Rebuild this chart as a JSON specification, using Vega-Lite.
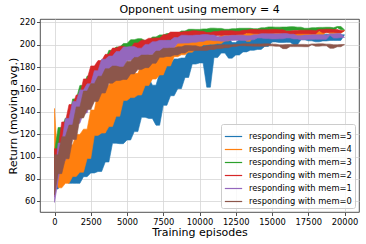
{
"$schema": "https://vega.github.io/schema/vega-lite/v6.json",
"width": 319, "height": 193,
"autosize": {"type": "none"},
"padding": {"left": 40, "top": 19, "right": 7, "bottom": 32},
"background": "white",
"title": {"text": "Opponent using memory = 4", "fontSize": 11, "fontWeight": "normal", "font": "DejaVu Sans", "color": "black", "offset": 2},
"data": {"values": [
{"e":0,"m":5,"r":98},{"e":250,"m":5,"r":71},{"e":500,"m":5,"r":102},{"e":750,"m":5,"r":78},{"e":1000,"m":5,"r":101},{"e":1250,"m":5,"r":76},{"e":1500,"m":5,"r":97},{"e":1750,"m":5,"r":76},{"e":2000,"m":5,"r":106},{"e":2250,"m":5,"r":82},{"e":2500,"m":5,"r":113.5},{"e":2750,"m":5,"r":85.3},{"e":3000,"m":5,"r":119.4},{"e":3250,"m":5,"r":86.6},{"e":3500,"m":5,"r":121},{"e":3750,"m":5,"r":95.1},{"e":4000,"m":5,"r":134.5},{"e":4250,"m":5,"r":111.9},{"e":4500,"m":5,"r":148.5},{"e":4750,"m":5,"r":111.5},{"e":5000,"m":5,"r":152.3},{"e":5250,"m":5,"r":114.8},{"e":5500,"m":5,"r":159.8},{"e":5750,"m":5,"r":122.3},{"e":6000,"m":5,"r":170},{"e":6250,"m":5,"r":135.1},{"e":6500,"m":5,"r":170.7},{"e":6750,"m":5,"r":134.1},{"e":7000,"m":5,"r":163.8},{"e":7250,"m":5,"r":128},{"e":7500,"m":5,"r":175},{"e":7750,"m":5,"r":145.8},{"e":8000,"m":5,"r":183.2},{"e":8250,"m":5,"r":154.4},{"e":8500,"m":5,"r":187.3},{"e":8750,"m":5,"r":160.7},{"e":9000,"m":5,"r":188.1},{"e":9250,"m":5,"r":170.7},{"e":9500,"m":5,"r":195.9},{"e":9750,"m":5,"r":182.7},{"e":10000,"m":5,"r":203},{"e":10250,"m":5,"r":183.7},{"e":10500,"m":5,"r":203.2},{"e":10750,"m":5,"r":162},{"e":11000,"m":5,"r":204.9},{"e":11250,"m":5,"r":188.5},{"e":11500,"m":5,"r":207},{"e":11750,"m":5,"r":192.5},{"e":12000,"m":5,"r":205.9},{"e":12250,"m":5,"r":188},{"e":12500,"m":5,"r":201.9},{"e":12750,"m":5,"r":190.8},{"e":13000,"m":5,"r":204.8},{"e":13250,"m":5,"r":193.6},{"e":13500,"m":5,"r":206.3},{"e":13750,"m":5,"r":195},{"e":14000,"m":5,"r":207},{"e":14250,"m":5,"r":195.8},{"e":14500,"m":5,"r":206},{"e":14750,"m":5,"r":198.5},{"e":15000,"m":5,"r":208.2},{"e":15250,"m":5,"r":202.5},{"e":15500,"m":5,"r":210.2},{"e":15750,"m":5,"r":202},{"e":16000,"m":5,"r":209.9},{"e":16250,"m":5,"r":202.1},{"e":16500,"m":5,"r":210.1},{"e":16750,"m":5,"r":200},{"e":17000,"m":5,"r":210.8},{"e":17250,"m":5,"r":204.4},{"e":17500,"m":5,"r":210.1},{"e":17750,"m":5,"r":203.5},{"e":18000,"m":5,"r":208},{"e":18250,"m":5,"r":202.6},{"e":18500,"m":5,"r":209},{"e":18750,"m":5,"r":203.4},{"e":19000,"m":5,"r":209.4},{"e":19250,"m":5,"r":203.8},{"e":19500,"m":5,"r":209.5},{"e":19750,"m":5,"r":203.8},{"e":20000,"m":5,"r":208.9},
{"e":0,"m":4,"r":143},{"e":250,"m":4,"r":89.5},{"e":500,"m":4,"r":72},{"e":750,"m":4,"r":100},{"e":1000,"m":4,"r":76},{"e":1250,"m":4,"r":110.6},{"e":1500,"m":4,"r":82.2},{"e":1750,"m":4,"r":119.8},{"e":2000,"m":4,"r":86},{"e":2250,"m":4,"r":124.5},{"e":2500,"m":4,"r":98.2},{"e":2750,"m":4,"r":141.6},{"e":3000,"m":4,"r":118.9},{"e":3250,"m":4,"r":158.5},{"e":3500,"m":4,"r":121},{"e":3750,"m":4,"r":163.8},{"e":4000,"m":4,"r":126.8},{"e":4250,"m":4,"r":170.4},{"e":4500,"m":4,"r":136},{"e":4750,"m":4,"r":178.5},{"e":5000,"m":4,"r":150.2},{"e":5250,"m":4,"r":178.9},{"e":5500,"m":4,"r":152.7},{"e":5750,"m":4,"r":174.4},{"e":6000,"m":4,"r":155},{"e":6250,"m":4,"r":182.5},{"e":6500,"m":4,"r":163.5},{"e":6750,"m":4,"r":187.4},{"e":7000,"m":4,"r":169.3},{"e":7250,"m":4,"r":190.5},{"e":7500,"m":4,"r":173},{"e":7750,"m":4,"r":191.4},{"e":8000,"m":4,"r":181},{"e":8250,"m":4,"r":197.2},{"e":8500,"m":4,"r":189.3},{"e":8750,"m":4,"r":202},{"e":9000,"m":4,"r":191},{"e":9250,"m":4,"r":203},{"e":9500,"m":4,"r":193.3},{"e":9750,"m":4,"r":204.6},{"e":10000,"m":4,"r":196.4},{"e":10250,"m":4,"r":206.8},{"e":10500,"m":4,"r":199.8},{"e":10750,"m":4,"r":207.2},{"e":11000,"m":4,"r":200.5},{"e":11250,"m":4,"r":206.2},{"e":11500,"m":4,"r":201},{"e":11750,"m":4,"r":208.4},{"e":12000,"m":4,"r":203.4},{"e":12250,"m":4,"r":209.8},{"e":12500,"m":4,"r":204.9},{"e":12750,"m":4,"r":210.5},{"e":13000,"m":4,"r":206},{"e":13250,"m":4,"r":210.3},{"e":13500,"m":4,"r":203},{"e":13750,"m":4,"r":211.3},{"e":14000,"m":4,"r":208.7},{"e":14250,"m":4,"r":212.3},{"e":14500,"m":4,"r":208.4},{"e":14750,"m":4,"r":212.2},{"e":15000,"m":4,"r":208.5},{"e":15250,"m":4,"r":212.3},{"e":15500,"m":4,"r":208.6},{"e":15750,"m":4,"r":212.6},{"e":16000,"m":4,"r":209.2},{"e":16250,"m":4,"r":212.2},{"e":16500,"m":4,"r":208.7},{"e":16750,"m":4,"r":211.1},{"e":17000,"m":4,"r":208.1},{"e":17250,"m":4,"r":211.6},{"e":17500,"m":4,"r":208.5},{"e":17750,"m":4,"r":211.9},{"e":18000,"m":4,"r":208.7},{"e":18250,"m":4,"r":211.9},{"e":18500,"m":4,"r":208.6},{"e":18750,"m":4,"r":211.6},{"e":19000,"m":4,"r":212.6},{"e":19250,"m":4,"r":209.7},{"e":19500,"m":4,"r":212.9},{"e":19750,"m":4,"r":210.2},{"e":20000,"m":4,"r":212.6},
{"e":0,"m":3,"r":104},{"e":250,"m":3,"r":89},{"e":500,"m":3,"r":126},{"e":750,"m":3,"r":106.2},{"e":1000,"m":3,"r":134.4},{"e":1250,"m":3,"r":118.5},{"e":1500,"m":3,"r":151.5},{"e":1750,"m":3,"r":133.7},{"e":2000,"m":3,"r":163.6},{"e":2250,"m":3,"r":144.6},{"e":2500,"m":3,"r":172},{"e":2750,"m":3,"r":153},{"e":3000,"m":3,"r":176.2},{"e":3250,"m":3,"r":164.5},{"e":3500,"m":3,"r":186.4},{"e":3750,"m":3,"r":177.6},{"e":4000,"m":3,"r":195},{"e":4250,"m":3,"r":181.3},{"e":4500,"m":3,"r":198},{"e":4750,"m":3,"r":185.3},{"e":5000,"m":3,"r":201.1},{"e":5250,"m":3,"r":189.3},{"e":5500,"m":3,"r":204.5},{"e":5750,"m":3,"r":194.2},{"e":6000,"m":3,"r":205.4},{"e":6250,"m":3,"r":195},{"e":6500,"m":3,"r":203.6},{"e":6750,"m":3,"r":196.3},{"e":7000,"m":3,"r":207},{"e":7250,"m":3,"r":199.6},{"e":7500,"m":3,"r":208.8},{"e":7750,"m":3,"r":201.6},{"e":8000,"m":3,"r":210},{"e":8250,"m":3,"r":202.9},{"e":8500,"m":3,"r":210.1},{"e":8750,"m":3,"r":205.5},{"e":9000,"m":3,"r":212.3},{"e":9250,"m":3,"r":208.8},{"e":9500,"m":3,"r":213.8},{"e":9750,"m":3,"r":209},{"e":10000,"m":3,"r":213.7},{"e":10250,"m":3,"r":209.5},{"e":10500,"m":3,"r":214.1},{"e":10750,"m":3,"r":210.1},{"e":11000,"m":3,"r":214.8},{"e":11250,"m":3,"r":211.2},{"e":11500,"m":3,"r":214.6},{"e":11750,"m":3,"r":211},{"e":12000,"m":3,"r":213.8},{"e":12250,"m":3,"r":210.6},{"e":12500,"m":3,"r":214.3},{"e":12750,"m":3,"r":210.9},{"e":13000,"m":3,"r":214.7},{"e":13250,"m":3,"r":211.1},{"e":13500,"m":3,"r":214.7},{"e":13750,"m":3,"r":210.9},{"e":14000,"m":3,"r":214.3},{"e":14250,"m":3,"r":211.5},{"e":14500,"m":3,"r":215.1},{"e":14750,"m":3,"r":212.8},{"e":15000,"m":3,"r":215.9},{"e":15250,"m":3,"r":212.5},{"e":15500,"m":3,"r":215.7},{"e":15750,"m":3,"r":212.3},{"e":16000,"m":3,"r":215.8},{"e":16250,"m":3,"r":212.5},{"e":16500,"m":3,"r":216.1},{"e":16750,"m":3,"r":213},{"e":17000,"m":3,"r":215.7},{"e":17250,"m":3,"r":212.5},{"e":17500,"m":3,"r":214.7},{"e":17750,"m":3,"r":211.9},{"e":18000,"m":3,"r":215.2},{"e":18250,"m":3,"r":212.3},{"e":18500,"m":3,"r":215.5},{"e":18750,"m":3,"r":212.4},{"e":19000,"m":3,"r":215.6},{"e":19250,"m":3,"r":212.3},{"e":19500,"m":3,"r":215.2},{"e":19750,"m":3,"r":216.3},{"e":20000,"m":3,"r":213.3},
{"e":0,"m":2,"r":64},{"e":250,"m":2,"r":107},{"e":500,"m":2,"r":92},{"e":750,"m":2,"r":130.9},{"e":1000,"m":2,"r":112.8},{"e":1250,"m":2,"r":146.5},{"e":1500,"m":2,"r":126},{"e":1750,"m":2,"r":155.1},{"e":2000,"m":2,"r":141.2},{"e":2250,"m":2,"r":169.4},{"e":2500,"m":2,"r":158.5},{"e":2750,"m":2,"r":181},{"e":3000,"m":2,"r":164.5},{"e":3250,"m":2,"r":185.8},{"e":3500,"m":2,"r":170.8},{"e":3750,"m":2,"r":191.4},{"e":4000,"m":2,"r":177.4},{"e":4250,"m":2,"r":197},{"e":4500,"m":2,"r":185},{"e":4750,"m":2,"r":198.6},{"e":5000,"m":2,"r":186.7},{"e":5250,"m":2,"r":197.1},{"e":5500,"m":2,"r":187.5},{"e":5750,"m":2,"r":201.6},{"e":6000,"m":2,"r":192.7},{"e":6250,"m":2,"r":204.1},{"e":6500,"m":2,"r":195.2},{"e":6750,"m":2,"r":205.8},{"e":7000,"m":2,"r":197},{"e":7250,"m":2,"r":206.1},{"e":7500,"m":2,"r":200.1},{"e":7750,"m":2,"r":209},{"e":8000,"m":2,"r":204.5},{"e":8250,"m":2,"r":211.3},{"e":8500,"m":2,"r":204.8},{"e":8750,"m":2,"r":211.3},{"e":9000,"m":2,"r":205.6},{"e":9250,"m":2,"r":211.8},{"e":9500,"m":2,"r":206.7},{"e":9750,"m":2,"r":212.4},{"e":10000,"m":2,"r":208.3},{"e":10250,"m":2,"r":212},{"e":10500,"m":2,"r":207.9},{"e":10750,"m":2,"r":210.9},{"e":11000,"m":2,"r":207.5},{"e":11250,"m":2,"r":211.8},{"e":11500,"m":2,"r":208.3},{"e":11750,"m":2,"r":212.4},{"e":12000,"m":2,"r":208.8},{"e":12250,"m":2,"r":212.5},{"e":12500,"m":2,"r":208.6},{"e":12750,"m":2,"r":212.1},{"e":13000,"m":2,"r":209.2},{"e":13250,"m":2,"r":212.9},{"e":13500,"m":2,"r":210.5},{"e":13750,"m":2,"r":213.6},{"e":14000,"m":2,"r":210.1},{"e":14250,"m":2,"r":213.4},{"e":14500,"m":2,"r":209.9},{"e":14750,"m":2,"r":213.4},{"e":15000,"m":2,"r":210},{"e":15250,"m":2,"r":213.7},{"e":15500,"m":2,"r":210.5},{"e":15750,"m":2,"r":213.3},{"e":16000,"m":2,"r":209.9},{"e":16250,"m":2,"r":212.2},{"e":16500,"m":2,"r":209.3},{"e":16750,"m":2,"r":212.7},{"e":17000,"m":2,"r":209.7},{"e":17250,"m":2,"r":213},{"e":17500,"m":2,"r":209.8},{"e":17750,"m":2,"r":213},{"e":18000,"m":2,"r":209.6},{"e":18250,"m":2,"r":212.6},{"e":18500,"m":2,"r":213.7},{"e":18750,"m":2,"r":210.6},{"e":19000,"m":2,"r":213.9},{"e":19250,"m":2,"r":211.1},{"e":19500,"m":2,"r":213.6},{"e":19750,"m":2,"r":210.6},{"e":20000,"m":2,"r":212.6},
{"e":0,"m":1,"r":59},{"e":250,"m":1,"r":78.3},{"e":500,"m":1,"r":112},{"e":750,"m":1,"r":96.5},{"e":1000,"m":1,"r":134},{"e":1250,"m":1,"r":116.3},{"e":1500,"m":1,"r":149.2},{"e":1750,"m":1,"r":129.7},{"e":2000,"m":1,"r":159.6},{"e":2250,"m":1,"r":139},{"e":2500,"m":1,"r":165},{"e":2750,"m":1,"r":151.4},{"e":3000,"m":1,"r":176.8},{"e":3250,"m":1,"r":166.5},{"e":3500,"m":1,"r":187},{"e":3750,"m":1,"r":170.3},{"e":4000,"m":1,"r":189.8},{"e":4250,"m":1,"r":174.6},{"e":4500,"m":1,"r":193.9},{"e":4750,"m":1,"r":179.7},{"e":5000,"m":1,"r":198},{"e":5250,"m":1,"r":185.8},{"e":5500,"m":1,"r":198.5},{"e":5750,"m":1,"r":187},{"e":6000,"m":1,"r":196.9},{"e":6250,"m":1,"r":187.8},{"e":6500,"m":1,"r":200.3},{"e":6750,"m":1,"r":191},{"e":7000,"m":1,"r":202.7},{"e":7250,"m":1,"r":193.2},{"e":7500,"m":1,"r":203.9},{"e":7750,"m":1,"r":194.5},{"e":8000,"m":1,"r":203.9},{"e":8250,"m":1,"r":197.4},{"e":8500,"m":1,"r":206.4},{"e":8750,"m":1,"r":201.4},{"e":9000,"m":1,"r":208.5},{"e":9250,"m":1,"r":201.5},{"e":9500,"m":1,"r":208.3},{"e":9750,"m":1,"r":202.1},{"e":10000,"m":1,"r":208.6},{"e":10250,"m":1,"r":202.9},{"e":10500,"m":1,"r":209.1},{"e":10750,"m":1,"r":204.1},{"e":11000,"m":1,"r":208.6},{"e":11250,"m":1,"r":203.6},{"e":11500,"m":1,"r":207.1},{"e":11750,"m":1,"r":203.2},{"e":12000,"m":1,"r":208},{"e":12250,"m":1,"r":203.8},{"e":12500,"m":1,"r":208.4},{"e":12750,"m":1,"r":203.9},{"e":13000,"m":1,"r":208.5},{"e":13250,"m":1,"r":203.7},{"e":13500,"m":1,"r":208},{"e":13750,"m":1,"r":204.4},{"e":14000,"m":1,"r":208.9},{"e":14250,"m":1,"r":206},{"e":14500,"m":1,"r":209.9},{"e":14750,"m":1,"r":205.5},{"e":15000,"m":1,"r":209.7},{"e":15250,"m":1,"r":205.2},{"e":15500,"m":1,"r":209.7},{"e":15750,"m":1,"r":205.3},{"e":16000,"m":1,"r":210},{"e":16250,"m":1,"r":206},{"e":16500,"m":1,"r":209.4},{"e":16750,"m":1,"r":205.2},{"e":17000,"m":1,"r":208},{"e":17250,"m":1,"r":204.5},{"e":17500,"m":1,"r":208.6},{"e":17750,"m":1,"r":204.8},{"e":18000,"m":1,"r":208.9},{"e":18250,"m":1,"r":204.9},{"e":18500,"m":1,"r":208.9},{"e":18750,"m":1,"r":204.8},{"e":19000,"m":1,"r":208.4},{"e":19250,"m":1,"r":209.7},{"e":19500,"m":1,"r":205.9},{"e":19750,"m":1,"r":210},{"e":20000,"m":1,"r":206.5},
{"e":0,"m":0,"r":65.8},{"e":250,"m":0,"r":101.5},{"e":500,"m":0,"r":84.7},{"e":750,"m":0,"r":117.7},{"e":1000,"m":0,"r":98},{"e":1250,"m":0,"r":128.1},{"e":1500,"m":0,"r":115.2},{"e":1750,"m":0,"r":144.4},{"e":2000,"m":0,"r":134.5},{"e":2250,"m":0,"r":158.5},{"e":2500,"m":0,"r":142},{"e":2750,"m":0,"r":165.2},{"e":3000,"m":0,"r":149.2},{"e":3250,"m":0,"r":171.8},{"e":3500,"m":0,"r":156.8},{"e":3750,"m":0,"r":178.5},{"e":4000,"m":0,"r":165.6},{"e":4250,"m":0,"r":180.9},{"e":4500,"m":0,"r":168},{"e":4750,"m":0,"r":180},{"e":5000,"m":0,"r":169},{"e":5250,"m":0,"r":185.3},{"e":5500,"m":0,"r":173.9},{"e":5750,"m":0,"r":188.6},{"e":6000,"m":0,"r":177.8},{"e":6250,"m":0,"r":190.7},{"e":6500,"m":0,"r":179.5},{"e":6750,"m":0,"r":190.9},{"e":7000,"m":0,"r":183.4},{"e":7250,"m":0,"r":194.3},{"e":7500,"m":0,"r":188.7},{"e":7750,"m":0,"r":196.8},{"e":8000,"m":0,"r":189.5},{"e":8250,"m":0,"r":197.1},{"e":8500,"m":0,"r":190.8},{"e":8750,"m":0,"r":198.1},{"e":9000,"m":0,"r":192.6},{"e":9250,"m":0,"r":199.3},{"e":9500,"m":0,"r":194.6},{"e":9750,"m":0,"r":199.1},{"e":10000,"m":0,"r":194.9},{"e":10250,"m":0,"r":198.1},{"e":10500,"m":0,"r":194.8},{"e":10750,"m":0,"r":199.1},{"e":11000,"m":0,"r":195.8},{"e":11250,"m":0,"r":199.6},{"e":11500,"m":0,"r":196.6},{"e":11750,"m":0,"r":199.9},{"e":12000,"m":0,"r":197.3},{"e":12250,"m":0,"r":199.9},{"e":12500,"m":0,"r":198.5},{"e":12750,"m":0,"r":200.4},{"e":13000,"m":0,"r":199.1},{"e":13250,"m":0,"r":200.8},{"e":13500,"m":0,"r":198.9},{"e":13750,"m":0,"r":200.7},{"e":14000,"m":0,"r":198.7},{"e":14250,"m":0,"r":200.7},{"e":14500,"m":0,"r":198.7},{"e":14750,"m":0,"r":200.8},{"e":15000,"m":0,"r":199},{"e":15250,"m":0,"r":200.5},{"e":15500,"m":0,"r":198.6},{"e":15750,"m":0,"r":199.9},{"e":16000,"m":0,"r":196.5},{"e":16250,"m":0,"r":200.2},{"e":16500,"m":0,"r":198.3},{"e":16750,"m":0,"r":200.3},{"e":17000,"m":0,"r":198.3},{"e":17250,"m":0,"r":200.3},{"e":17500,"m":0,"r":198.2},{"e":17750,"m":0,"r":200},{"e":18000,"m":0,"r":200.7},{"e":18250,"m":0,"r":198.7},{"e":18500,"m":0,"r":200.8},{"e":18750,"m":0,"r":199},{"e":19000,"m":0,"r":200.5},{"e":19250,"m":0,"r":196.8},{"e":19500,"m":0,"r":199.9},{"e":19750,"m":0,"r":198.2},{"e":20000,"m":0,"r":200.2}
]},
"transform": [{"window": [{"op": "min", "field": "r", "as": "lo"}, {"op": "max", "field": "r", "as": "hi"}], "frame": [0, 1], "groupby": ["m"], "sort": [{"field": "e"}]}],
"mark": {"type": "area", "opacity": 1, "strokeWidth": 0.6},
"encoding": {
"x": {"field": "e", "type": "quantitative", "scale": {"domain": [-1000, 21000], "nice": false, "zero": false}, "axis": {"values": [0,2500,5000,7500,10000,12500,15000,17500,20000], "format": "d", "title": "Training episodes", "labelPadding": 2, "titlePadding": 1, "labelFlush": false}},
"y": {"field": "hi", "type": "quantitative", "stack": null, "scale": {"domain": [50.4, 223], "nice": false, "zero": false}, "axis": {"values": [60,80,100,120,140,160,180,200,220], "format": "d", "title": "Return (moving avg.)", "labelPadding": 1.5, "titlePadding": 1}},
"y2": {"field": "lo"},
"color": {"field": "m", "type": "nominal", "sort": [5,4,3,2,1,0], "scale": {"domain": [5,4,3,2,1,0], "range": ["#1f77b4","#ff7f0e","#2ca02c","#d62728","#9467bd","#8c564b"]}, "legend": {"title": null, "labelExpr": "'responding with mem=' + datum.label", "orient": "bottom-right", "offset": 4}},
"stroke": {"field": "m", "type": "nominal", "sort": [5,4,3,2,1,0], "scale": {"domain": [5,4,3,2,1,0], "range": ["#1f77b4","#ff7f0e","#2ca02c","#d62728","#9467bd","#8c564b"]}, "legend": {"title": null, "labelExpr": "'responding with mem=' + datum.label", "orient": "bottom-right", "offset": 4}}
},
"config": {
"font": "DejaVu Sans",
"view": {"stroke": "#262626", "strokeWidth": 0.8},
"axis": {"domain": false, "grid": true, "gridColor": "#d6d6d6", "gridWidth": 0.8, "tickColor": "#262626", "tickSize": 3.5, "tickWidth": 0.8, "labelFontSize": 8.3, "labelColor": "black", "labelFont": "DejaVu Sans", "titleFontSize": 11, "titleFontWeight": "normal", "titleColor": "black", "titleFont": "DejaVu Sans"},
"legend": {"strokeColor": "#cccccc", "fillColor": "rgba(255,255,255,0.8)", "cornerRadius": 2, "padding": 3, "symbolType": "stroke", "symbolSize": 300, "symbolStrokeWidth": 1.2, "labelFontSize": 8.3, "labelFont": "DejaVu Sans", "labelColor": "black", "rowPadding": -2.5, "labelOffset": 6}
}
}
